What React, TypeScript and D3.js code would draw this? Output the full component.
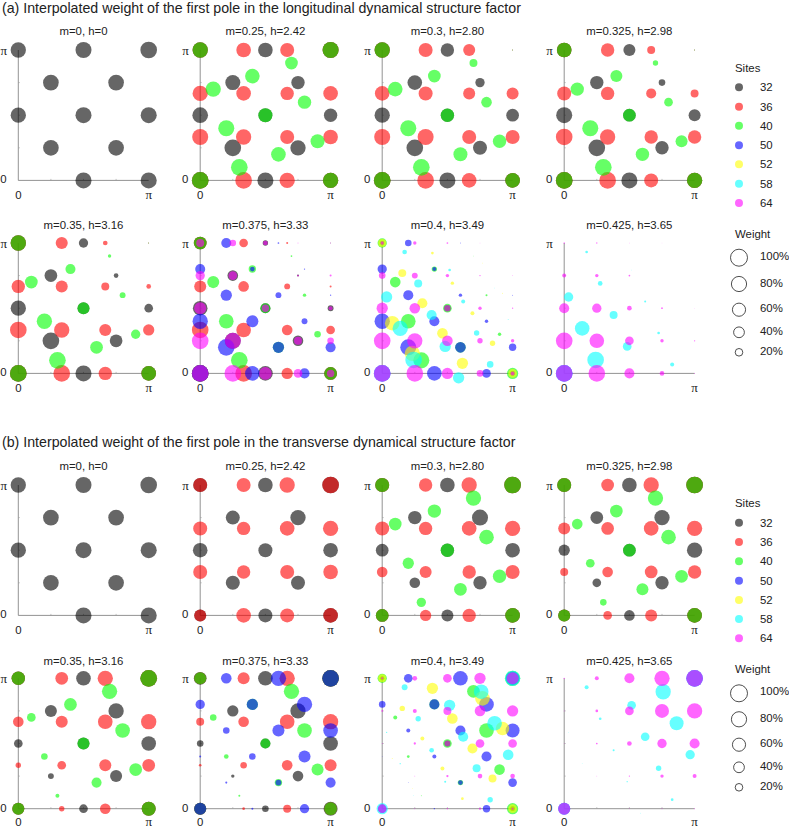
import React from "react";
import * as d3 from "d3";

type P = [number, number, number]; // x/π, y/π, weight %

const SITES = ["32", "36", "40", "50", "52", "58", "64"];
const COLORS = ["#000000", "#ff0000", "#00ff00", "#0000ff", "#ffff00", "#00ffff", "#ff00ff"];
const WEIGHT_TICKS = [100, 80, 60, 40, 20];

const A1: P[] = [[0,1,81],[.5,1,89],[1,1,96],[.25,.75,85],[.75,.75,85],[0,.5,81],[.5,.5,89],[1,.5,89],[.25,.25,85],[.75,.25,85],[.5,0,89],[1,0,89]];

const A2_32: P[] = [[0,1,81],[.5,1,74],[1,1,89],[.25,.75,78],[.75,.75,62],[0,.5,85],[.5,.5,68],[1,.5,62],[.25,.25,96],[.75,.25,81],[0,0,96],[.5,0,89],[1,0,81]];
const A2_36: P[] = [[.333,1,74],[.667,1,68],[0,1,81],[1,1,89],[0,.667,81],[.333,.667,74],[.667,.667,62],[1,.667,74],[0,.333,89],[.333,.333,81],[.667,.333,68],[1,.333,74],[0,0,96],[.333,0,96],[.667,0,81],[1,0,81]];
const A2_40: P[] = [[.7,.9,56],[.4,.8,74],[.1,.7,81],[.8,.6,62],[.5,.5,68],[.2,.4,89],[.9,.3,68],[.6,.2,74],[.3,.1,96],[0,1,81],[1,1,89],[0,0,96],[1,0,81]];

const A3_32: P[] = [[0,1,81],[.5,1,62],[1,1,.2],[.25,.75,74],[.75,.75,30],[0,.5,81],[.5,.5,62],[1,.5,56],[.25,.25,96],[.75,.25,68],[0,0,96],[.5,0,89],[1,0,74]];
const A3_36: P[] = [[.333,1,68],[.667,1,50],[0,1,81],[1,1,.2],[0,.667,74],[.333,.667,68],[.667,.667,50],[1,.667,50],[0,.333,89],[.333,.333,89],[.667,.333,68],[1,.333,68],[0,0,96],[.333,0,96],[.667,0,74],[1,0,74]];
const A3_40: P[] = [[.7,.9,22],[.4,.8,56],[.1,.7,74],[.8,.6,39],[.5,.5,62],[.2,.4,89],[.9,.3,62],[.6,.2,68],[.3,.1,96],[0,1,81],[1,1,.2],[0,0,96],[1,0,74]];

const A4_32: P[] = [[0,1,74],[.5,1,50],[1,1,.2],[.25,.75,62],[.75,.75,15],[0,.5,89],[.5,.5,56],[1,.5,50],[.25,.25,96],[.75,.25,62],[0,0,96],[.5,0,89],[1,0,81]];
const A4_36: P[] = [[.333,1,62],[.667,1,22],[0,1,74],[1,1,.2],[0,.667,68],[.333,.667,62],[.667,.667,35],[1,.667,22],[0,.333,96],[.333,.333,81],[.667,.333,62],[1,.333,62],[0,0,96],[.333,0,96],[.667,0,68],[1,0,81]];
const A4_40: P[] = [[.7,.9,10],[.4,.8,50],[.1,.7,62],[.8,.6,26],[.5,.5,56],[.2,.4,89],[.9,.3,50],[.6,.2,62],[.3,.1,96],[0,1,74],[1,1,.2],[0,0,96],[1,0,81]];

const A5_32: P[] = [[0,1,81],[.5,1,30],[1,1,.2],[.25,.75,56],[.75,.75,7.5],[0,.5,81],[.5,.5,50],[1,.5,26],[.25,.25,96],[.75,.25,56],[0,0,96],[.5,0,89],[1,0,74]];
const A5_36: P[] = [[.333,1,50],[.667,1,7.5],[0,1,81],[1,1,.2],[0,.667,62],[.333,.667,50],[.667,.667,22],[1,.667,7.5],[0,.333,96],[.333,.333,81],[.667,.333,50],[1,.333,44],[0,0,96],[.333,0,96],[.667,0,62],[1,0,74]];
const A5_40: P[] = [[.7,.9,4],[.4,.8,35],[.1,.7,56],[.8,.6,12],[.5,.5,50],[.2,.4,81],[.9,.3,30],[.6,.2,56],[.3,.1,96],[0,1,81],[1,1,.2],[0,0,96],[1,0,74]];

const A6_32: P[] = [[0,1,56],[.5,1,10],[1,1,.2],[.25,.75,39],[.75,.75,1.4],[0,.5,74],[.5,.5,35],[1,.5,12],[.25,.25,89],[.75,.25,39],[0,0,96],[.5,0,74],[1,0,56]];
const A6_36: P[] = [[.333,1,26],[.667,1,1.4],[0,1,56],[0,.667,50],[.333,.667,39],[.667,.667,12],[1,.667,1.4],[0,.333,96],[.333,.333,74],[.667,.333,39],[1,.333,26],[0,0,96],[.333,0,96],[.667,0,44],[1,0,56]];
const A6_40: P[] = [[.7,.9,1],[.4,.8,19],[.1,.7,50],[.8,.6,4],[.5,.5,35],[.2,.4,74],[.9,.3,15],[.6,.2,44],[.3,.1,96],[0,1,56],[0,0,96],[1,0,56]];
const A6_50: P[] = [[.2,1,35],[.6,1,1],[0,.8,35],[.4,.8,7.5],[.8,.8,.6],[.2,.6,44],[.6,.6,12],[1,.6,.6],[0,.4,81],[.4,.4,50],[.8,.4,12],[.2,.2,96],[.6,.2,44],[1,.2,35],[0,0,96],[.4,0,74],[.8,0,35]];
const A6_64: P[] = [[0,1,22],[.25,1,15],[.5,1,7.5],[.75,1,.3],[1,1,.2],[0,.75,30],[.25,.75,26],[.75,.75,1],[1,.75,1.4],[0,.5,50],[.5,.5,19],[1,.5,5.5],[0,.25,96],[.25,.25,89],[.75,.25,22],[1,.25,15],[0,0,96],[.25,0,96],[.5,0,56],[.75,0,26],[1,0,19]];

const A7_32: P[] = [[0,1,5.5],[.5,.5,15],[1,0,7.5]];
const A7_36: P[] = [[0,1,5.5],[1,0,7.5]];
const A7_40: P[] = [[.7,.9,.15],[.4,.8,10],[.1,.7,39],[.8,.6,1.4],[.5,.5,26],[.2,.4,74],[.9,.3,4],[.6,.2,39],[.3,.1,89],[0,1,30],[1,0,44]];
const A7_50: P[] = [[.2,1,15],[.6,1,.3],[0,.8,30],[.4,.8,5.5],[.2,.6,35],[.6,.6,4],[1,.6,.3],[0,.4,81],[.4,.4,35],[.8,.4,4],[.2,.2,89],[.6,.2,39],[1,.2,19],[0,0,96],[.4,0,74],[.8,0,26]];
const A7_52: P[] = [[.308,.538,35],[.154,.769,22],[.385,.923,2.5],[.538,.692,4],[.692,.462,5.5],[.462,.308,39],[.077,.385,74],[.231,.154,81],[.615,.077,44],[.846,.231,10],[.923,.615,.3],[.769,.846,.15],[0,1,22],[1,0,26]];
const A7_58: P[] = [[.172,.931,7.5],[.517,.793,2.5],[.276,.69,22],[.034,.586,44],[.621,.552,5.5],[.379,.448,35],[.138,.345,81],[.724,.31,10],[.483,.207,44],[.241,.103,96],[.828,.069,15],[.586,-.034,44],[.966,.414,.3],[.862,.655,.15],[0,0,96]];
const A7_64: P[] = [[0,1,4],[.25,1,4],[.5,1,1],[.75,1,.15],[0,.75,15],[.25,.75,12],[.5,.75,4],[.75,.75,.6],[1,.75,.15],[0,.5,44],[.25,.5,39],[.5,.5,15],[.75,.5,4],[1,.5,.6],[0,.25,96],[.25,.25,81],[.5,.25,39],[.75,.25,10],[1,.25,4],[0,0,96],[.25,0,96],[.5,0,44],[.75,0,15],[1,0,5.5]];

const A8_50: P[] = [[0,0,96]];
const A8_58: P[] = [[.172,.931,2.5],[.276,.69,7.5],[.034,.586,30],[.621,.552,1.4],[.379,.448,22],[.138,.345,74],[.724,.31,2.5],[.483,.207,26],[.241,.103,96],[.828,.069,5.5],[.517,.793,.15],[0,0,96]];
const A8_64: P[] = [[0,1,.6],[.25,1,.6],[.5,1,.15],[.75,1,.05],[0,.75,5.5],[.25,.75,4],[.5,.75,1],[0,.5,35],[.25,.5,30],[.5,.5,7.5],[.75,.5,1],[1,.5,.05],[0,.25,96],[.25,.25,74],[.5,.25,26],[.75,.25,4],[1,.25,.6],[0,0,96],[.25,0,96],[.5,0,35],[.75,0,7.5],[1,0,.3]];

const B1: P[] = A1;

const B2_32: P[] = [[0,1,68],[.5,1,74],[1,1,96],[.25,.75,68],[.75,.75,81],[0,.5,74],[.5,.5,68],[1,.5,74],[.25,.25,68],[.75,.25,68],[0,0,50],[.5,0,68],[1,0,74]];
const B2_36: P[] = [[.333,1,68],[.667,1,81],[0,1,68],[1,1,96],[0,.667,68],[.333,.667,62],[.667,.667,74],[1,.667,81],[0,.333,68],[.333,.333,62],[.667,.333,68],[1,.333,74],[0,0,50],[.333,0,74],[.667,0,68],[1,0,74]];

const B3_32: P[] = [[0,1,68],[.5,1,74],[1,1,96],[.25,.75,62],[.75,.75,89],[0,.5,56],[.5,.5,62],[1,.5,74],[.25,.25,39],[.75,.25,62],[0,0,56],[.5,0,50],[1,0,74]];
const B3_36: P[] = [[.333,1,62],[.667,1,81],[0,1,68],[1,1,96],[0,.667,68],[.333,.667,62],[.667,.667,74],[1,.667,81],[0,.333,39],[.333,.333,50],[.667,.333,62],[1,.333,68],[0,0,56],[.333,0,44],[.667,0,62],[1,0,74]];
const B3_40: P[] = [[.7,.9,81],[.4,.8,62],[.1,.7,56],[.8,.6,74],[.5,.5,62],[.2,.4,44],[.9,.3,62],[.6,.2,56],[.3,.1,30],[0,1,68],[1,1,96],[0,0,56],[1,0,74]];

const B4_32: P[] = [[0,1,68],[.5,1,74],[1,1,96],[.25,.75,56],[.75,.75,81],[0,.5,44],[.5,.5,56],[1,.5,81],[.25,.25,26],[.75,.25,62],[0,0,50],[.5,0,39],[1,0,74]];
const B4_36: P[] = [[.333,1,56],[.667,1,81],[0,1,68],[1,1,96],[0,.667,50],[.333,.667,56],[.667,.667,74],[1,.667,81],[0,.333,22],[.333,.333,39],[.667,.333,56],[1,.333,62],[0,0,50],[.333,0,26],[.667,0,50],[1,0,74]];
const B4_40: P[] = [[.7,.9,81],[.4,.8,56],[.1,.7,39],[.8,.6,74],[.5,.5,56],[.2,.4,26],[.9,.3,56],[.6,.2,50],[.3,.1,15],[0,1,68],[1,1,96],[0,0,50],[1,0,74]];

const B5_32: P[] = [[0,1,62],[.5,1,74],[1,1,96],[.25,.75,50],[.75,.75,81],[0,.5,26],[.5,.5,50],[1,.5,74],[.25,.25,12],[.75,.25,50],[0,0,50],[.5,0,26],[1,0,68]];
const B5_36: P[] = [[.333,1,56],[.667,1,81],[0,1,62],[1,1,96],[0,.667,39],[.333,.667,50],[.667,.667,74],[1,.667,81],[0,.333,10],[.333,.333,26],[.667,.333,50],[1,.333,56],[0,0,50],[.333,0,10],[.667,0,39],[1,0,68]];
const B5_40: P[] = [[.7,.9,81],[.4,.8,56],[.1,.7,26],[.8,.6,74],[.5,.5,50],[.2,.4,15],[.9,.3,56],[.6,.2,35],[.3,.1,5.5],[0,1,62],[1,1,96],[0,0,50],[1,0,68]];

const B6_32: P[] = [[0,1,56],[.5,1,74],[1,1,96],[.25,.75,44],[.75,.75,81],[0,.5,15],[.5,.5,35],[1,.5,74],[.25,.25,4],[.75,.25,39],[0,0,50],[.5,0,15],[1,0,68]];
const B6_36: P[] = [[.333,1,50],[.667,1,81],[0,1,50],[1,1,96],[0,.667,22],[.333,.667,39],[.667,.667,74],[1,.667,81],[0,.333,2.5],[.333,.333,15],[.667,.333,39],[1,.333,50],[0,0,50],[.333,0,2.5],[.667,0,22],[1,0,56]];
const B6_40: P[] = [[.7,.9,81],[.4,.8,44],[.1,.7,15],[.8,.6,74],[.5,.5,35],[.2,.4,7.5],[.9,.3,50],[.6,.2,19],[.3,.1,1.4],[0,1,50],[1,1,96],[0,0,50],[1,0,56]];
const B6_50: P[] = [[.2,1,39],[.6,1,81],[1,1,96],[0,.8,30],[.4,.8,44],[.8,.8,81],[.2,.6,15],[.6,.6,50],[1,.6,74],[0,.4,1.4],[.4,.4,15],[.8,.4,50],[.2,.2,1.4],[.6,.2,12],[1,.2,35],[0,0,50],[.4,0,1.4],[.8,0,30]];

const B7_32: P[] = [[0,1,5.5],[1,0,7.5],[.5,.5,12]];
const B7_36: P[] = [[0,1,5.5],[1,0,7.5]];
const B7_40: P[] = [[.7,.9,56],[.4,.8,35],[.1,.7,5.5],[.8,.6,74],[.5,.5,26],[.2,.4,2.5],[.9,.3,39],[.6,.2,10],[.3,.1,.3],[0,1,30],[1,1,81],[1,0,44]];
const B7_50: P[] = [[.2,1,26],[.6,1,74],[1,1,62],[0,.8,15],[.4,.8,35],[.8,.8,74],[.2,.6,5.5],[.6,.6,35],[1,.6,68],[0,.4,.15],[.4,.4,5.5],[.8,.4,35],[.2,.2,.15],[.6,.2,7.5],[1,.2,26],[.4,0,.6],[.8,0,19],[0,0,26]];
const B7_52: P[] = [[.385,.923,44],[.154,.769,10],[.538,.692,39],[.769,.846,74],[.308,.538,5.5],[.923,.615,62],[.692,.462,35],[.077,.385,.3],[.462,.308,5.5],[.846,.231,22],[.615,.077,2.5],[.231,.154,.15],[1,0,26],[0,1,22]];
const B7_58: P[] = [[.172,.931,12],[.517,.793,44],[.276,.69,10],[.034,.586,.6],[.621,.552,35],[.379,.448,7.5],[.138,.345,.6],[.724,.31,22],[.483,.207,1.4],[.241,.103,.15],[.828,.069,10],[.862,.655,74],[.759,.897,74],[.966,.414,39],[0,0,44],[1,1,81]];
const B7_64: P[] = [[0,1,1.4],[.25,1,7.5],[.5,1,26],[.75,1,44],[1,1,50],[0,.75,1],[.25,.75,5.5],[.5,.75,22],[.75,.75,39],[1,.75,44],[0,.5,.3],[.25,.5,1.8],[.5,.5,12],[.75,.5,26],[1,.5,26],[.25,.25,.3],[.5,.25,1.8],[.75,.25,7.5],[1,.25,7.5],[0,0,26],[.25,0,.3],[.5,0,.6],[.75,0,1.4],[1,0,1.4]];

const B8_50: P[] = [[0,0,50],[1,1,96]];
const B8_58: P[] = [[.172,.931,5.5],[.517,.793,26],[.276,.69,2.5],[.034,.586,.15],[.621,.552,26],[.379,.448,1.4],[.138,.345,.15],[.724,.31,10],[.483,.207,.6],[.828,.069,2.5],[.862,.655,68],[.759,.897,81],[.966,.414,30],[.586,-.034,.15],[1,1,96],[0,0,50]];
const B8_64: P[] = [[0,1,.6],[.25,1,5.5],[.5,1,35],[.75,1,81],[1,1,96],[0,.75,.3],[.25,.75,2.5],[.5,.75,26],[.75,.75,68],[1,.75,81],[0,.5,.15],[.25,.5,1],[.5,.5,7.5],[.75,.5,30],[1,.5,35],[.25,.25,.15],[.5,.25,.6],[.75,.25,4],[1,.25,5.5],[0,0,50],[.5,0,.15],[.75,0,.3],[1,0,.3]];

const TITLES_M = ["m=0, h=0","m=0.25, h=2.42","m=0.3, h=2.80","m=0.325, h=2.98","m=0.35, h=3.16","m=0.375, h=3.33","m=0.4, h=3.49","m=0.425, h=3.65"];
const TITLE_A = "(a) Interpolated weight of the first pole in the longitudinal dynamical structure factor";
const TITLE_B = "(b) Interpolated weight of the first pole in the transverse dynamical structure factor";

const PANELS_A: { [k: string]: P[] }[] = [
  { "32": A1 },
  { "32": A2_32, "36": A2_36, "40": A2_40 },
  { "32": A3_32, "36": A3_36, "40": A3_40 },
  { "32": A4_32, "36": A4_36, "40": A4_40 },
  { "32": A5_32, "36": A5_36, "40": A5_40 },
  { "32": A6_32, "36": A6_36, "40": A6_40, "50": A6_50, "64": A6_64 },
  { "32": A7_32, "36": A7_36, "40": A7_40, "50": A7_50, "52": A7_52, "58": A7_58, "64": A7_64 },
  { "50": A8_50, "58": A8_58, "64": A8_64 },
];
const PANELS_B: { [k: string]: P[] }[] = [
  { "32": B1 },
  { "32": B2_32, "36": B2_36 },
  { "32": B3_32, "36": B3_36, "40": B3_40 },
  { "32": B4_32, "36": B4_36, "40": B4_40 },
  { "32": B5_32, "36": B5_36, "40": B5_40 },
  { "32": B6_32, "36": B6_36, "40": B6_40, "50": B6_50 },
  { "32": B7_32, "36": B7_36, "40": B7_40, "50": B7_50, "52": B7_52, "58": B7_58, "64": B7_64 },
  { "50": B8_50, "58": B8_58, "64": B8_64 },
];

const FONT = "'Liberation Sans', Arial, sans-serif";
const SERIF = "'Liberation Serif', serif";
const TEXT = "#222";
const SIZE = 130.4;
const X0 = [18.3, 200.2, 382.2, 564.2];
const rScale = d3.scaleSqrt().domain([0, 100]).range([0, 8.5]);
const color = d3.scaleOrdinal<string, string>().domain(SITES).range(COLORS);

function PanelView({ x0, y0, title, data, titleY, labelGap }: { x0: number; y0: number; title: string; data: { [k: string]: P[] }; titleY: number; labelGap: number }) {
  const fx = d3.scaleLinear().domain([0, 1]).range([x0, x0 + SIZE]);
  const fy = d3.scaleLinear().domain([0, 1]).range([y0, y0 - SIZE]);
  const ticks = d3.range(0.25, 1, 0.25);
  return (
    <g>
      <text x={fx(0.5)} y={titleY} textAnchor="middle" dominantBaseline="central" fontSize={11.4} fill={TEXT}>{title}</text>
      <path d={`M${fx(0)},${fy(1)}V${fy(0)}H${fx(1)}`} fill="none" stroke="#777" strokeWidth={0.8} />
      {ticks.map((t) => (
        <g key={t} stroke="#999" strokeWidth={0.6}>
          <line x1={fx(t)} x2={fx(t)} y1={fy(0)} y2={fy(0) - 1.5} />
          <line x1={fx(0)} x2={fx(0) + 1.5} y1={fy(t)} y2={fy(t)} />
        </g>
      ))}
      {SITES.filter((s) => data[s]).map((s) => (
        <g key={s} fill={color(s)} fillOpacity={0.6}>
          {data[s].map((p, i) => (
            <circle key={i} cx={fx(p[0])} cy={fy(p[1])} r={rScale(p[2])} />
          ))}
        </g>
      ))}
      <g fontSize={11.4} fill={TEXT} textAnchor="middle">
        <text x={fx(0) - 14.6} y={fy(1)} dominantBaseline="central" fontFamily={SERIF} fontSize={13}>π</text>
        <text x={fx(0) - 15} y={fy(0) - 1} dominantBaseline="central">0</text>
        <text x={fx(0)} y={fy(0) + labelGap} dominantBaseline="central">0</text>
        <text x={fx(1)} y={fy(0) + labelGap} dominantBaseline="central" fontFamily={SERIF} fontSize={13}>π</text>
      </g>
    </g>
  );
}

function Legend({ sitesY, itemY, weightY, circleY, labelY }: { sitesY: number; itemY: number[]; weightY: number; circleY: number[]; labelY: number[] }) {
  return (
    <g fontSize={11.4} fill={TEXT}>
      <text x={735} y={sitesY} dominantBaseline="central">Sites</text>
      {SITES.map((s, i) => (
        <g key={s}>
          <circle cx={739} cy={itemY[i]} r={rScale(22)} fill={color(s)} fillOpacity={0.6} />
          <text x={760} y={itemY[i]} dominantBaseline="central">{s}</text>
        </g>
      ))}
      <text x={735} y={weightY} dominantBaseline="central">Weight</text>
      {WEIGHT_TICKS.map((w, i) => (
        <g key={w}>
          <circle cx={739} cy={circleY[i]} r={rScale(w)} fill="none" stroke="#222" strokeWidth={0.8} />
          <text x={760} y={labelY[i]} dominantBaseline="central">{w}%</text>
        </g>
      ))}
    </g>
  );
}

export default function App() {
  const rowsA = [{ y: 180.4, t: 30.7, g: 14.4 }, { y: 373.4, t: 225, g: 14.4 }];
  const rowsB = [{ y: 615.4, t: 466, g: 14.4 }, { y: 808.7, t: 660.7, g: 12.9 }];
  return (
    <svg width={789} height={828} style={{ position: "absolute", left: 0, top: 0 }} fontFamily={FONT}>
      <rect width={789} height={828} fill="#fff" />
      <text x={2} y={7.5} dominantBaseline="central" fontSize={14.2} fill={TEXT}>{TITLE_A}</text>
      <text x={2} y={442} dominantBaseline="central" fontSize={14.2} fill={TEXT}>{TITLE_B}</text>
      {PANELS_A.map((d, i) => (
        <PanelView key={"a" + i} x0={X0[i % 4]} y0={rowsA[i >> 2].y} titleY={rowsA[i >> 2].t} labelGap={rowsA[i >> 2].g} title={TITLES_M[i]} data={d} />
      ))}
      {PANELS_B.map((d, i) => (
        <PanelView key={"b" + i} x0={X0[i % 4]} y0={rowsB[i >> 2].y} titleY={rowsB[i >> 2].t} labelGap={rowsB[i >> 2].g} title={TITLES_M[i]} data={d} />
      ))}
      <Legend sitesY={68} itemY={[87.3, 106.7, 125.7, 145.3, 164.3, 183.7, 203]} weightY={234} circleY={[257.7, 284, 309.7, 332.3, 352.3]} labelY={[255.7, 283, 308.3, 331, 350.7]} />
      <Legend sitesY={503} itemY={[522.7, 542, 561.3, 580.7, 600, 619, 638.3]} weightY={669.3} circleY={[693.3, 719.3, 744.7, 767.3, 787.3]} labelY={[691, 718, 743, 766, 786]} />
    </svg>
  );
}
